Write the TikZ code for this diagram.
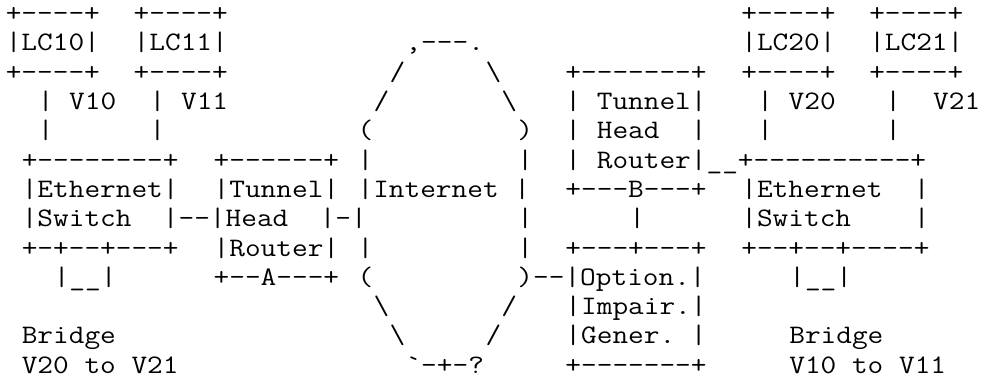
\documentclass[tikz,border=0pt]{standalone}
\usepackage{graphicx}
\newcommand\asciiseg[4]{%
  \node[asc] (#1) at ({5.8+15.99*#2},{21.6+29.3*(#3-1)}) {\scalebox{1.1405}[1]{#4}};}
\tikzset{asc/.style={anchor=base west, inner sep=0pt, outer sep=0pt,
  font=\ttfamily\fontsize{26.7}{30}\selectfont, text=black}}
\begin{document}
\begin{tikzpicture}[x=1pt,y=-1pt]
\fill[white] (0,0) rectangle (983,381);
\useasboundingbox (0,0) rectangle (983,381);
% row 1
\asciiseg{ra1}{0}{1}{+----+}
\asciiseg{rb1}{8}{1}{+----+}
\asciiseg{rc1}{46}{1}{+----+}
\asciiseg{rd1}{54}{1}{+----+}
% row 2
\asciiseg{lcten}{0}{2}{|LC10|}
\asciiseg{lceleven}{8}{2}{|LC11|}
\asciiseg{cltop}{25}{2}{,---.}
\asciiseg{lctwenty}{46}{2}{|LC20|}
\asciiseg{lctwone}{54}{2}{|LC21|}
% row 3
\asciiseg{ra3}{0}{3}{+----+}
\asciiseg{rb3}{8}{3}{+----+}
\asciiseg{clthreel}{24}{3}{/}
\asciiseg{clthreer}{30}{3}{\textbackslash}
\asciiseg{thbone}{35}{3}{+-------+}
\asciiseg{rd3}{46}{3}{+----+}
\asciiseg{re3}{54}{3}{+----+}
% row 4
\asciiseg{vten}{2}{4}{|\ V10}
\asciiseg{veleven}{9}{4}{|\ V11}
\asciiseg{clfourl}{23}{4}{/}
\asciiseg{clfourr}{31}{4}{\textbackslash}
\asciiseg{thbtwo}{35}{4}{|\ Tunnel|}
\asciiseg{vtwenty}{47}{4}{|\ V20}
\asciiseg{vtwonebar}{55}{4}{|}
\asciiseg{vtwone}{58}{4}{V21}
% row 5
\asciiseg{ra5}{2}{5}{|}
\asciiseg{rb5}{9}{5}{|}
\asciiseg{clfivel}{22}{5}{(}
\asciiseg{clfiver}{32}{5}{)}
\asciiseg{thbthree}{35}{5}{|\ Head\ \ |}
\asciiseg{rc5}{47}{5}{|}
\asciiseg{rd5}{55}{5}{|}
% row 6
\asciiseg{esaone}{1}{6}{+--------+}
\asciiseg{thaone}{13}{6}{+------+}
\asciiseg{clsixl}{22}{6}{|}
\asciiseg{clsixr}{32}{6}{|}
\asciiseg{thbfour}{35}{6}{|\ Router|\_\_+----------+}
% row 7
\asciiseg{esatwo}{1}{7}{|Ethernet|}
\asciiseg{thatwo}{13}{7}{|Tunnel|}
\asciiseg{inet}{22}{7}{|Internet\ |}
\asciiseg{thbfive}{35}{7}{+---B---+}
\asciiseg{esbone}{46}{7}{|Ethernet\ \ |}
% row 8
\asciiseg{esathree}{1}{8}{|Switch\ \ |--|Head\ \ |-|}
\asciiseg{cleightr}{32}{8}{|}
\asciiseg{blink}{39}{8}{|}
\asciiseg{esbtwo}{46}{8}{|Switch\ \ \ \ |}
% row 9
\asciiseg{esafour}{1}{9}{+-+--+---+}
\asciiseg{thafour}{13}{9}{|Router|}
\asciiseg{clninel}{22}{9}{|}
\asciiseg{clniner}{32}{9}{|}
\asciiseg{oigone}{35}{9}{+---+---+}
\asciiseg{esbthree}{46}{9}{+--+--+----+}
% row 10
\asciiseg{bra}{3}{10}{|\_\_|}
\asciiseg{thafive}{13}{10}{+--A---+}
\asciiseg{cltenl}{22}{10}{(}
\asciiseg{cltenr}{32}{10}{)--|Option.|}
\asciiseg{brb}{49}{10}{|\_\_|}
% row 11
\asciiseg{clelevenl}{23}{11}{\textbackslash}
\asciiseg{clelevenr}{31}{11}{/}
\asciiseg{oigthree}{35}{11}{|Impair.|}
% row 12
\asciiseg{bla}{1}{12}{Bridge}
\asciiseg{cltwelvel}{24}{12}{\textbackslash}
\asciiseg{cltwelver}{30}{12}{/}
\asciiseg{oigfour}{35}{12}{|Gener.\ |}
\asciiseg{blb}{49}{12}{Bridge}
% row 13
\asciiseg{blatext}{1}{13}{V20\ to\ V21}
\asciiseg{clbottom}{25}{13}{\textasciigrave-+-?}
\asciiseg{oigfive}{35}{13}{+-------+}
\asciiseg{blbtext}{49}{13}{V10\ to\ V11}
\end{tikzpicture}
\end{document}
